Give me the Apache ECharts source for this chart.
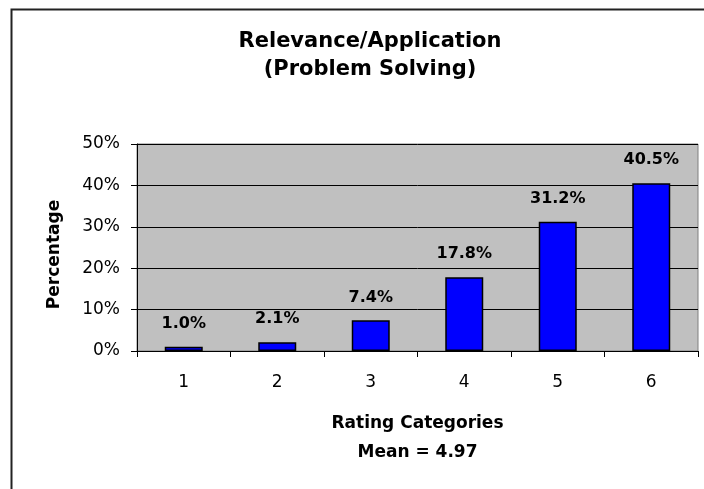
<!DOCTYPE html>
<html>
<head>
<meta charset="utf-8">
<script src="https://cdn.jsdelivr.net/npm/echarts@6/dist/echarts.min.js"></script>
<style>
  html, body { margin: 0; padding: 0; background: #fff; }
  #chart { width: 704px; height: 489px; }
</style>
</head>
<body>
<div id="chart"></div>
<script>
// Rating categories and the share of responses in each
const categories = ['1', '2', '3', '4', '5', '6'];
const percentages = [1.0, 2.1, 7.4, 17.8, 31.2, 40.5];
const yTicks = { min: 0, max: 50, step: 10 };
const chartTitle = 'Relevance/Application\n(Problem Solving)';
const xName = 'Rating Categories\nMean = 4.97';
const yName = 'Percentage';

const FONT = '"DejaVu Sans", "Liberation Sans", Arial, sans-serif';

const chart = echarts.init(document.getElementById('chart'), null, { renderer: 'canvas' });

chart.setOption({
  animation: false,
  backgroundColor: '#ffffff',
  title: {
    text: chartTitle,
    left: 365,
    top: 23,
    textAlign: 'center',
    textStyle: {
      fontFamily: FONT,
      fontSize: 21,
      fontWeight: 'bold',
      color: '#000',
      lineHeight: 28
    }
  },
  graphic: [{
    type: 'rect',
    silent: true,
    shape: { x: 11.5, y: 9.5, width: 760, height: 560 },
    style: { fill: null, stroke: '#222', lineWidth: 2 },
    z: 0
  }],
  grid: {
    left: 137,
    top: 144,
    width: 561,
    height: 207,
    show: true,
    backgroundColor: '#C0C0C0',
    borderColor: '#808080',
    borderWidth: 1
  },
  xAxis: {
    type: 'category',
    data: categories,
    name: xName,
    nameLocation: 'middle',
    nameGap: 58,
    nameTextStyle: {
      fontFamily: FONT,
      fontSize: 17,
      fontWeight: 'bold',
      color: '#000',
      lineHeight: 29
    },
    axisLine: { show: true, lineStyle: { color: '#000', width: 1 } },
    axisTick: { show: true, alignWithLabel: false, length: 6, lineStyle: { color: '#000' } },
    axisLabel: {
      margin: 23,
      fontFamily: FONT,
      fontSize: 17,
      color: '#000'
    },
    splitLine: { show: false }
  },
  yAxis: {
    type: 'value',
    min: yTicks.min,
    max: yTicks.max,
    interval: yTicks.step,
    name: yName,
    nameLocation: 'middle',
    nameGap: 74,
    nameRotate: 90,
    nameTextStyle: {
      fontFamily: FONT,
      fontSize: 17,
      fontWeight: 'bold',
      color: '#000',
      padding: [0, 14, 0, 0]
    },
    axisLine: { show: true, lineStyle: { color: '#000', width: 1 } },
    axisTick: { show: true, inside: false, length: 6, lineStyle: { color: '#000' } },
    axisLabel: {
      margin: 17,
      fontFamily: FONT,
      fontSize: 17,
      color: '#000',
      formatter: '{value}%'
    },
    splitLine: { show: true, lineStyle: { color: '#000', width: 1 } }
  },
  series: [{
    type: 'bar',
    data: percentages,
    barWidth: 38,
    itemStyle: {
      color: '#0000FF',
      borderColor: '#000',
      borderWidth: 1.5
    },
    label: {
      show: true,
      position: 'top',
      distance: 15,
      fontFamily: FONT,
      fontSize: 16,
      fontWeight: 'bold',
      color: '#000',
      formatter: (p) => p.value.toFixed(1) + '%'
    }
  }]
});
</script>
</body>
</html>
